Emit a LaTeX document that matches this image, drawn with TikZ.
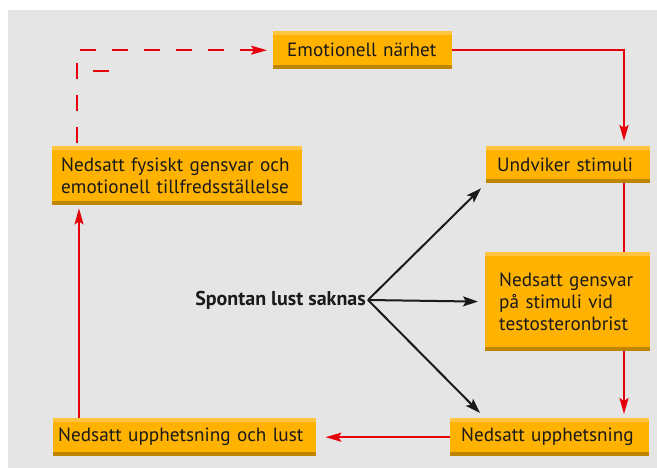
\documentclass[tikz,border=0pt]{standalone}
\usepackage{fontspec}
\setmainfont{PT Sans}
\usepackage{xcolor}
\usetikzlibrary{arrows.meta}

\definecolor{bakgrund}{RGB}{229,229,229}
\definecolor{gul}{RGB}{255,178,0}
\definecolor{gulljus}{RGB}{255,197,64}
\definecolor{gulmork}{RGB}{190,134,0}
\definecolor{rod}{RGB}{230,0,10}
\definecolor{tekst}{RGB}{26,26,26}

\tikzset{
	boks/.style={anchor=north west, fill=gul, inner xsep=11pt, inner ysep=0pt,
		align=left, text=tekst, font=\fontsize{19.2}{22}\selectfont,
		path picture={
			\fill[gulljus] (path picture bounding box.north west) rectangle ([yshift=-4pt]path picture bounding box.north east);
			\fill[gulmork] (path picture bounding box.south west) rectangle ([yshift=4pt]path picture bounding box.south east);
		}},
	rodpil/.style={draw=rod, line width=2pt, -{Stealth[length=16pt, width=9pt, inset=3pt]}},
	rodlinje/.style={draw=rod, line width=2pt},
	streckpil/.style={rodpil, dash pattern=on 16pt off 16pt},
	svartpil/.style={draw=tekst, line width=2pt, -{Stealth[length=15pt, width=10pt, inset=3pt]}}
}

\begin{document}
\begin{tikzpicture}[x=1pt, y=-1pt]
	\useasboundingbox (0, 0) rectangle (657, 468);
	\fill[bakgrund] (8, 10) rectangle (657, 468);
	
	\coordinate (hoger) at (624, 0);
	\coordinate (vanster) at (79, 0);
	\coordinate (streck) at (77, 0);
	
	\node[boks, inner xsep=14pt, text width=151pt, minimum height=38pt] (emo) at (273, 31) {Emotionell närhet};
	\node[boks, text width=142pt, minimum height=37pt] (undv) at (486, 146) {Undviker stimuli};
	\node[boks, inner xsep=14pt, text width=137pt, minimum height=99pt] (gensvar) at (485, 252) {Nedsatt gensvar\\på stimuli vid\\testosteronbrist};
	\node[boks, inner xsep=9pt, text width=232pt, minimum height=59pt] (fysiskt) at (52, 146) {Nedsatt fysiskt gensvar och\\emotionell tillfredsställelse};
	\node[boks, inner xsep=5pt, text width=253pt, minimum height=38pt] (lust) at (53, 418) {Nedsatt upphetsning och lust};
	\node[boks, text width=177pt, minimum height=38pt] (upph) at (450, 418) {Nedsatt upphetsning};
	
	\node[anchor=east, inner sep=2pt, text=tekst, font=\fontsize{20}{22}\selectfont\bfseries] (spontan) at (368, 300) {Spontan lust saknas};
	
	% kretsen
	\draw[rodpil, shorten >=5pt] (emo.east) -| (undv.north -| hoger);
	\draw[rodlinje] (undv.south -| hoger) -- (gensvar.north -| hoger);
	\draw[rodpil, shorten >=4pt] (gensvar.south -| hoger) -- (upph.north -| hoger);
	\draw[rodpil, shorten >=9pt] (upph.west) -- (lust.east);
	\draw[rodpil, shorten >=3pt] (lust.north -| vanster) -- (fysiskt.south -| vanster);
	\draw[streckpil, shorten <=3pt, shorten >=6pt] (fysiskt.north -| streck) |- (emo.west);
	\draw[rodlinje] (93, 71) -- (109, 71);
	
	% spontan lust
	\draw[svartpil, shorten >=7pt] (spontan.east) -- (undv.south west);
	\draw[svartpil, shorten >=7pt] (spontan.east) -- (gensvar.west);
	\draw[svartpil, shorten >=7pt] (spontan.east) -- (gensvar.west |- upph.north);
\end{tikzpicture}
\end{document}
